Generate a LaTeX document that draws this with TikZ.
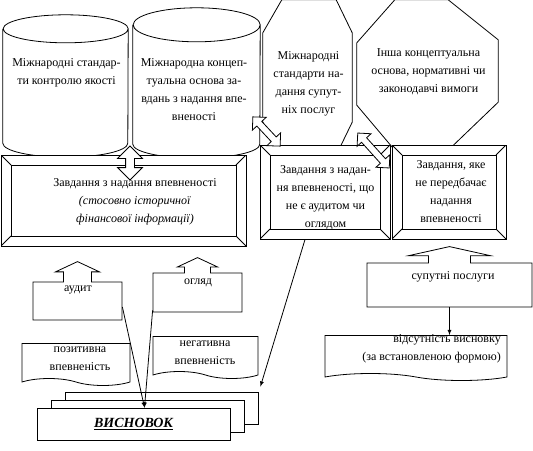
\documentclass[tikz,border=0pt]{standalone}
\usepackage{fontspec}
\setmainfont{Liberation Serif}
\usepackage{tikz}
\usetikzlibrary{positioning,calc,shapes,shapes.arrows,shapes.symbols,shapes.misc,shadows,arrows}

\tikzset{frame/.style={draw,line width=1pt,fill=white,inner sep=0pt,align=center,
  path picture={
    \coordinate (fnw) at (path picture bounding box.north west);
    \coordinate (fne) at (path picture bounding box.north east);
    \coordinate (fsw) at (path picture bounding box.south west);
    \coordinate (fse) at (path picture bounding box.south east);
    \draw[line width=0.9pt] ([shift={(10pt,-10pt)}]fnw) rectangle ([shift={(-10pt,10pt)}]fse);
    \draw[line width=0.9pt] (fnw) -- ++(10pt,-10pt) (fne) -- ++(-10pt,-10pt)
      (fsw) -- ++(10pt,10pt) (fse) -- ++(-10pt,10pt);
  }}}
\tikzset{dblarr/.style={double arrow,draw,thick,fill=white}}
\tikzset{upbox/.style={arrow box,draw,thick,fill=white,inner sep=0pt,arrow box head indent=0pt}}
\tikzset{docu/.style={tape,tape bend top=none,tape bend bottom=out and in,tape bend height=7pt,draw,thick,fill=white,inner sep=0pt,align=center}}
\tikzset{txt/.style={align=center,inner sep=0pt}}

\begin{document}
\begin{tikzpicture}[x=1pt,y=-1pt,font=\fontsize{12}{18}\selectfont]
  \useasboundingbox (0,0) rectangle (533,450);

  % standards and frameworks on top
  \node[minimum width=125pt,minimum height=142pt,inner sep=0pt] (isqc) at (65.5,86) {};
  \draw[thick,fill=white] ([yshift=-14pt]isqc.north west) -- ([yshift=14pt]isqc.south west)
    arc[start angle=180,end angle=360,x radius=62.5pt,y radius=14pt] -- ([yshift=-14pt]isqc.north east)
    arc[start angle=0,end angle=180,x radius=62.5pt,y radius=14pt]
    arc[start angle=180,end angle=360,x radius=62.5pt,y radius=14pt];
  \node[txt] (isqctext) at (66.5,73) {Міжнародні стандар-\\ти контролю якості};
  \node[minimum width=127pt,minimum height=150pt,inner sep=0pt] (frmwk) at (196.5,83) {};
  \draw[thick,fill=white] ([yshift=-17pt]frmwk.north west) -- ([yshift=14pt]frmwk.south west)
    arc[start angle=180,end angle=360,x radius=63.5pt,y radius=14pt] -- ([yshift=-17pt]frmwk.north east)
    arc[start angle=0,end angle=180,x radius=63.5pt,y radius=17pt]
    arc[start angle=180,end angle=360,x radius=63.5pt,y radius=17pt];
  \node[txt] (frmwktext) at (194,89.5) {Міжнародна концеп-\\туальна основа за-\\вдань з надання впе-\\вненості};
  \node[minimum width=89pt,minimum height=155pt,inner sep=0pt] (isrs) at (307.5,77.5) {};
  \draw[thick,fill=white] ([yshift=-33pt]isrs.north west) -- ([xshift=19pt]isrs.north west)
    -- ([xshift=-16pt]isrs.north east) -- ([yshift=-33pt]isrs.north east)
    -- ([yshift=33pt]isrs.south east) -- ([xshift=-16pt]isrs.south east)
    -- ([xshift=19pt]isrs.south west) -- ([yshift=33pt]isrs.south west) -- cycle;
  \node[txt] (isrstext) at (308.5,84) {Міжнародні\\стандарти на-\\дання супут-\\ніх послуг};
  \node[minimum width=141pt,minimum height=150pt,inner sep=0pt] (otherreq) at (427.5,75) {};
  \draw[thick,fill=white] ([yshift=-43pt]otherreq.north west) -- ([xshift=38pt]otherreq.north west)
    -- ([xshift=-50pt]otherreq.north east) -- ([yshift=-40pt]otherreq.north east)
    -- ([yshift=48pt]otherreq.south east) -- ([xshift=-50pt]otherreq.south east)
    -- ([xshift=38pt]otherreq.south west) -- ([yshift=45pt]otherreq.south west) -- cycle;
  \node[txt] (otherreqtext) at (428.5,71.5) {Інша концептуальна\\основа, нормативні чи\\законодавчі вимоги};

  % engagements
  \node[frame,minimum width=245pt,minimum height=91pt] (assur) at (123.5,200.5) {};
  \node[txt] (assurtext) at (135,201.5) {Завдання з надання впевненості\\
    \textit{(стосовно історичної}\\\textit{фінансової інформації)}};
  \node[frame,minimum width=130pt,minimum height=94pt] (otherassur) at (325,192) {};
  \node[txt] (otherassurtext) at (325.5,197.5) {Завдання з надан-\\ня впевненості, що\\не є аудитом чи\\оглядом};
  \node[frame,minimum width=114pt,minimum height=94pt] (nonassur) at (449,192) {};
  \node[txt] (nonassurtext) at (451,192) {Завдання, яке\\не передбачає\\надання\\впевненості};

  \node[dblarr,inner sep=4pt,minimum height=34pt,double arrow head extend=8pt,rotate=90] (arrqc) at (130,163) {};
  \node[dblarr,inner sep=3pt,minimum height=40pt,double arrow head extend=6pt,rotate=-47] (arrrs) at (266.5,131.5) {};
  \node[dblarr,inner sep=3pt,minimum height=47pt,double arrow head extend=6pt,rotate=-48] (arroth) at (373.5,150.5) {};

  % audit, review, related services
  \node[upbox,minimum width=89pt,minimum height=38pt,arrow box arrows={north:20pt from border},
    arrow box shaft width=28pt,arrow box head extend=8pt,arrow box tip angle=130] (audit) at (77.5,301) {};
  \node[txt] (audittext) at (78,290) {аудит};
  \node[upbox,minimum width=89pt,minimum height=39pt,arrow box arrows={north:15pt from border},
    arrow box shaft width=26pt,arrow box head extend=7pt,arrow box tip angle=130] (review) at (197.5,292.5) {};
  \node[txt] (reviewtext) at (198,283) {огляд};
  \node[upbox,minimum width=165pt,minimum height=44pt,arrow box arrows={north:16pt from border},
    arrow box shaft width=42pt,arrow box head extend=20pt,arrow box tip angle=155] (related) at (449.5,285) {};
  \node[txt] (relatedtext) at (453,277) {супутні послуги};

  \node[docu,minimum width=108pt,minimum height=42pt] (posit) at (76,361) {};
  \node[txt] (postext) at (80,359) {позитивна\\впевненість};
  \node[docu,minimum width=105pt,minimum height=42pt] (negat) at (205.5,354) {};
  \node[txt] (negtext) at (205,352.5) {негативна\\впевненість};
  \node[docu,minimum width=182pt,minimum height=45pt] (noconcl) at (416,354.5) {};
  \node[txt,align=right,anchor=east] (noconcltext) at (501,348.5) {відсутність висновку\\(за встановленою формою)};

  \node[draw,thick,fill=white,minimum width=193pt,minimum height=32pt,
    double copy shadow={shadow xshift=14pt,shadow yshift=8pt,draw,fill=white,thick}] (concl) at (133.5,424)
    {\fontsize{14}{16}\selectfont\bfseries\itshape\underline{ВИСНОВОК}};
  \coordinate (conclback) at ($(concl.north east)+(30,-21)$);

  \draw[-latex,thick] ([yshift=-6pt]audit.east) -- ([xshift=11pt]concl.north);
  \draw[-latex,thick] ([yshift=2pt]review.south west) -- ([xshift=11pt]concl.north);
  \draw[-latex,thick] ([xshift=-20pt]otherassur.south) -- (conclback);
  \draw[-latex,thick] (related.south) -- (related.south |- noconcl.north);
\end{tikzpicture}
\end{document}
